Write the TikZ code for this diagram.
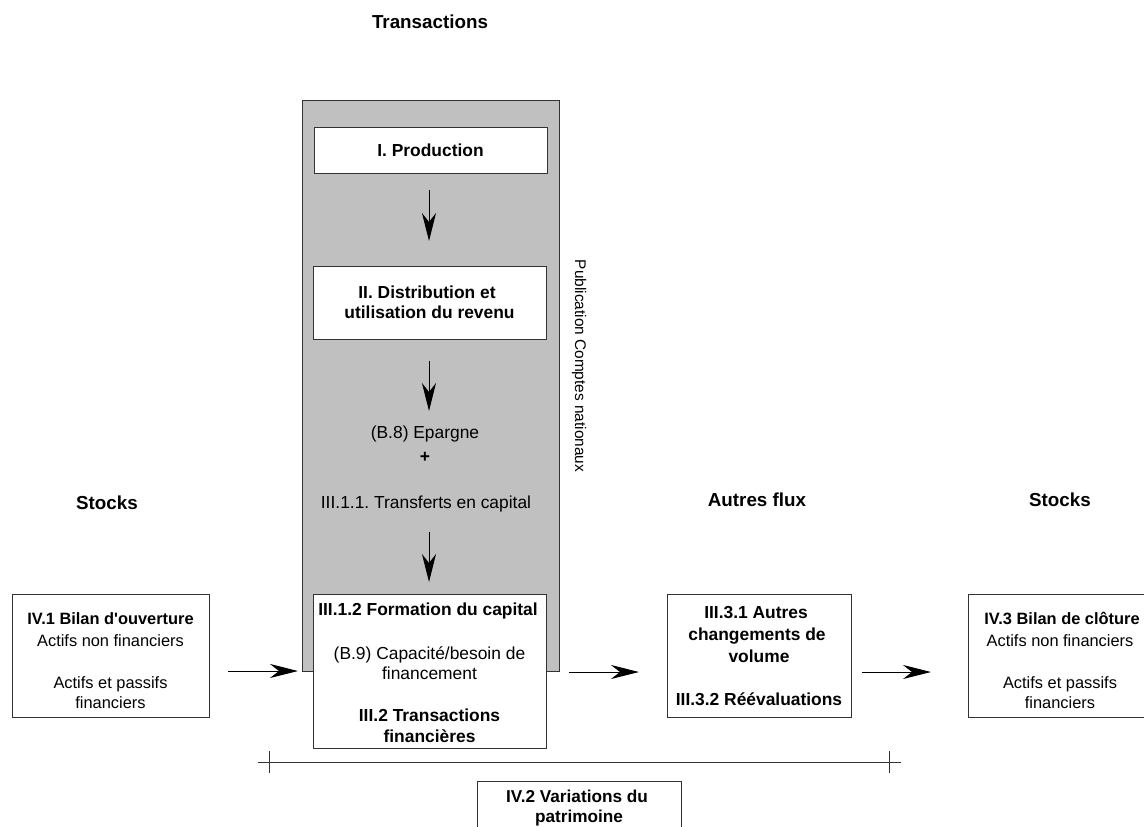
\documentclass[tikz,border=0pt]{standalone}
\usepackage{fontspec}
\setmainfont{Liberation Sans}
\usetikzlibrary{arrows.meta}
\definecolor{panelgray}{HTML}{C0C0C0}
\definecolor{edgecol}{HTML}{333333}
\frenchspacing
\begin{document}
\begin{tikzpicture}[x=1pt,y=-1pt,
  every node/.style={font=\fontsize{16.4}{20}\selectfont, inner sep=0pt, outer sep=0pt},
  txt/.style={anchor=base},
  btxt/.style={anchor=base, font=\fontsize{16.4}{20}\selectfont\bfseries},
  ptxt/.style={anchor=base, font=\fontsize{17.4}{21}\selectfont},
  pbtxt/.style={anchor=base, font=\fontsize{17.4}{21}\selectfont\bfseries},
  hdr/.style={anchor=base, font=\fontsize{18.8}{22}\selectfont\bfseries},
  boxnode/.style={draw=edgecol, line width=1pt, fill=white},
  flow/.style={line width=1pt, -{Stealth[length=28pt,width=14pt,inset=9pt]}},
  rule/.style={line width=1pt, draw=edgecol}]
\useasboundingbox (0,0) rectangle (1144,827);
\clip (0,0) rectangle (1144,827);

% title
\node[hdr] (ttrans) at (430,28) {Transactions};

% gray panel
\node[draw=edgecol, line width=1pt, fill=panelgray, minimum width=257pt, minimum height=571pt] (panel) at (430.5,385.5) {};
\node[rotate=-90, font=\fontsize{15.4}{18}\selectfont] (pub) at (579,366) {Publication Comptes nationaux};

% I. Production
\node[boxnode, minimum width=233pt, minimum height=46pt] (prod) at (430.5,150) {};
\node[pbtxt] (prodt) at (430.5,156) {I. Production};

% II. Distribution
\node[boxnode, minimum width=233pt, minimum height=73pt] (dist) at (429.5,302.5) {};
\node[pbtxt] (distt1) at (427,298) {II. Distribution et};
\node[pbtxt] (distt2) at (429.5,318) {utilisation du revenu};

% Epargne
\node[ptxt] (epar) at (425,438) {(B.8) Epargne};
\node[pbtxt] (plus) at (425,462) {+};
\node[ptxt] (transf) at (426,508) {III.1.1. Transferts en capital};

% III.1.2 box
\node[boxnode, minimum width=233pt, minimum height=154pt] (form) at (429.5,671) {};
\node[pbtxt] (formt1) at (428,615) {III.1.2 Formation du capital};
\node[ptxt] (formt2) at (429.5,659) {(B.9) Capacité/besoin de};
\node[ptxt] (formt3) at (429.5,679) {financement};
\node[pbtxt] (formt4) at (429.5,721) {III.2 Transactions};
\node[pbtxt] (formt5) at (429.5,742) {financières};

% vertical arrows
\coordinate (a1s) at (429,190); \coordinate (a1e) at (429,241);
\coordinate (a2s) at (429,361); \coordinate (a2e) at (429,411);
\coordinate (a3s) at (429,532); \coordinate (a3e) at (429,582);
\draw[flow] (a1s) -- (a1e);
\draw[flow] (a2s) -- (a2e);
\draw[flow] (a3s) -- (a3e);

% left stocks
\node[hdr] (stockl) at (107,509) {Stocks};
\node[boxnode, minimum width=197pt, minimum height=123pt] (bilan1) at (110.5,655.5) {};
\node[btxt] (b1t1) at (110.5,624) {IV.1 Bilan d\textquotesingle ouverture};
\node[txt] (b1t2) at (110.5,646) {Actifs non financiers};
\node[txt] (b1t3) at (110.5,688) {Actifs et passifs};
\node[txt] (b1t4) at (110.5,708) {financiers};

% autres flux
\node[hdr] (autres) at (757,506) {Autres flux};
\node[boxnode, minimum width=184pt, minimum height=123pt] (chg) at (759,655.5) {};
\node[pbtxt] (c1) at (756,618) {III.3.1 Autres};
\node[pbtxt] (c2) at (757,640) {changements de};
\node[pbtxt] (c3) at (759,662) {volume};
\node[pbtxt] (c4) at (759,705) {III.3.2 Réévaluations};

% right stocks
\node[hdr] (stockr) at (1060,506) {Stocks};
\node[boxnode, minimum width=184pt, minimum height=123pt] (bilan3) at (1060,655.5) {};
\node[btxt] (b3t1) at (1062,624) {IV.3 Bilan de clôture};
\node[txt] (b3t2) at (1060,646) {Actifs non financiers};
\node[txt] (b3t3) at (1060,688) {Actifs et passifs};
\node[txt] (b3t4) at (1060,708) {financiers};

% horizontal arrows
\coordinate (h1s) at (228,671); \coordinate (h1e) at (298,671);
\coordinate (h2s) at (569,672); \coordinate (h2e) at (639,672);
\coordinate (h3s) at (862,672); \coordinate (h3e) at (931,672);
\draw[flow] (h1s) -- (h1e);
\draw[flow] (h2s) -- (h2e);
\draw[flow] (h3s) -- (h3e);

% bottom bracket line
\coordinate (ls) at (258,762); \coordinate (le) at (901,762);
\coordinate (t1a) at (269,751); \coordinate (t1b) at (269,773);
\coordinate (t2a) at (889,751); \coordinate (t2b) at (889,773);
\draw[rule] (ls) -- (le);
\draw[rule] (t1a) -- (t1b);
\draw[rule] (t2a) -- (t2b);

% IV.2 box
\node[boxnode, minimum width=204pt, minimum height=79pt] (var) at (579,820.5) {};
\node[anchor=base, font=\fontsize{17.2}{21}\selectfont\bfseries] (v1) at (577,802) {IV.2 Variations du};
\node[anchor=base, font=\fontsize{17.2}{21}\selectfont\bfseries] (v2) at (579,822) {patrimoine};
\end{tikzpicture}
\end{document}
